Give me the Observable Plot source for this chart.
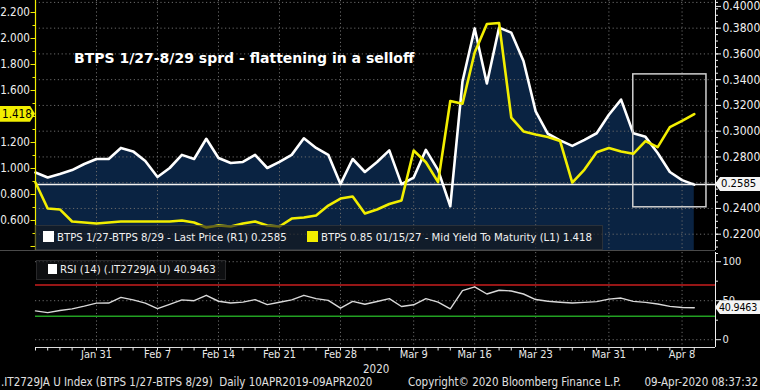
<!DOCTYPE html>
<html>
<head>
<meta charset="utf-8">
<script src="https://cdn.jsdelivr.net/npm/d3@7"></script>
<script src="https://cdn.jsdelivr.net/npm/@observablehq/plot@0.6"></script>
<style>
html,body{margin:0;padding:0;background:#000;}
#chart{position:relative;width:760px;height:390px;background:#000;overflow:hidden;
  font-family:"Liberation Sans Narrow","DejaVu Sans Condensed","Liberation Sans",Arial,sans-serif;color:#e8e8e8;}
.layer{position:absolute;left:0;}
.layer svg{overflow:visible;}
.title{position:absolute;left:74px;top:50px;font-family:"DejaVu Sans",Verdana,sans-serif;font-weight:bold;font-size:14px;color:#fff;white-space:nowrap;}
.legend{position:absolute;background:rgba(22,24,28,0.62);border:1px solid rgba(90,90,90,0.35);white-space:nowrap;font-size:11.3px;color:#f0f0f0;box-sizing:border-box;}
.item{position:absolute;top:5px;}
.sw{display:inline-block;width:11px;height:11px;vertical-align:-1px;margin-right:3px;}
.tag{position:absolute;font-size:11.2px;line-height:14px;height:14px;white-space:nowrap;color:#000;box-sizing:border-box;}
.foot{position:absolute;top:375px;font-size:11.5px;color:#e0e0e0;white-space:nowrap;}
</style>
</head>
<body>
<div id="chart"></div>
<script>
// ---- data (trading days) ----
const dates = [
 "2020-01-24","2020-01-27","2020-01-28","2020-01-29","2020-01-30","2020-01-31",
 "2020-02-03","2020-02-04","2020-02-05","2020-02-06","2020-02-07",
 "2020-02-10","2020-02-11","2020-02-12","2020-02-13","2020-02-14",
 "2020-02-17","2020-02-18","2020-02-19","2020-02-20","2020-02-21",
 "2020-02-24","2020-02-25","2020-02-26","2020-02-27","2020-02-28",
 "2020-03-02","2020-03-03","2020-03-04","2020-03-05","2020-03-06",
 "2020-03-09","2020-03-10","2020-03-11","2020-03-12","2020-03-13",
 "2020-03-16","2020-03-17","2020-03-18","2020-03-19","2020-03-20",
 "2020-03-23","2020-03-24","2020-03-25","2020-03-26","2020-03-27",
 "2020-03-30","2020-03-31","2020-04-01","2020-04-02","2020-04-03",
 "2020-04-06","2020-04-07","2020-04-08","2020-04-09"
];
// BTPS 1/27-BTPS 8/29 spread, Last Price (R1)
const spreadR1 = [
 0.2679,0.2640,0.2667,0.2698,0.2745,0.2784,0.2784,0.2870,0.2843,0.2769,
 0.2644,0.2714,0.2816,0.2784,0.2941,0.2792,0.2753,0.2761,0.2816,0.2714,
 0.2761,0.2816,0.2945,0.2870,0.2816,0.2589,0.2784,0.2683,0.2761,0.2851,
 0.2589,0.2640,0.2855,0.2698,0.2417,0.3386,0.3798,0.3370,0.3804,0.3765,
 0.3545,0.3154,0.2980,0.2929,0.2886,0.2933,0.2984,0.3128,0.3245,0.2984,
 0.2956,0.2831,0.2683,0.2620,0.2585
];
// BTPS 0.85 01/15/27 Mid Yield To Maturity (L1)
const yieldL1 = [
 0.892,0.692,0.685,0.592,0.585,0.577,0.585,0.592,0.592,0.592,
 0.592,0.592,0.600,0.585,0.546,0.562,0.554,0.577,0.592,0.562,
 0.554,0.615,0.623,0.638,0.715,0.769,0.785,0.654,0.685,0.727,
 0.754,1.138,1.048,0.895,1.519,1.498,1.892,2.112,2.119,1.392,
 1.285,1.262,1.242,1.212,0.892,0.992,1.125,1.158,1.131,1.113,
 1.210,1.164,1.318,1.367,1.418
];
// RSI (14)
const rsi14 = [
 36.9,34.7,37.5,39.5,43.0,46.9,47.0,54.3,51.0,46.9,
 39.8,45.4,51.0,50.0,56.9,49.3,47.0,48.2,51.3,45.0,
 48.0,51.0,56.9,52.6,50.4,40.4,49.1,45.5,49.0,52.6,
 42.6,44.8,52.6,48.2,39.5,63.0,67.8,58.6,63.4,62.5,
 58.6,51.5,49.3,48.0,47.0,47.8,48.8,52.0,53.4,49.1,
 47.9,45.7,42.7,41.3,40.9463
];
const tickDates = ["2020-01-31","2020-02-07","2020-02-14","2020-02-21","2020-02-28",
                   "2020-03-09","2020-03-16","2020-03-23","2020-03-31","2020-04-08"];
const tickLabels = ["Jan 31","Feb 7","Feb 14","Feb 21","Feb 28","Mar 9","Mar 16","Mar 23","Mar 31","Apr 8"];
const rightTicks = [0.22,0.24,0.26,0.28,0.30,0.32,0.34,0.36,0.38,0.40];
const leftTicks = [0.6,0.8,1.0,1.2,1.4,1.6,1.8,2.0,2.2];
const rsiTicks = [0,50,100];
const rsiBands = {over: 70, under: 30};
const highlight = {from: "2020-04-02", to: "2020-04-09", top: 0.3441, bottom: 0.2409};

// ---- build ----
const data = dates.map((d, i) => ({i, date: d, spread: spreadR1[i], yld: yieldL1[i], rsi: rsi14[i]}));
const tickIdx = tickDates.map(d => dates.indexOf(d));
const labelOf = new Map(tickIdx.map((k, j) => [k, tickLabels[j]]));
const lastSpread = spreadR1[spreadR1.length - 1];
const lastYield = yieldL1[yieldL1.length - 1];
const lastRsi = rsi14[rsi14.length - 1];

const xDomain = [0, 55.74];
const spreadDomain = [0.20734, 0.40148];
const yieldDomain = [0.3692, 2.2923];
const rsiDomain = [-10, 111.8];
const YEL = "#f2ee00";
const grid = {stroke: "#6a6a6a", strokeDasharray: "1.2,2.6", strokeWidth: 1};
const chart = document.getElementById("chart");

function layer(svg, top) {
  const d = document.createElement("div");
  d.className = "layer";
  d.style.top = top + "px";
  d.appendChild(svg);
  chart.appendChild(d);
  return svg;
}

const common = {width: 760, marginLeft: 35, marginRight: 45};
const f4 = d3.format(".4f");

// main panel: spread (right axis)
const mainPlot = layer(Plot.plot({
  ...common, height: 251, marginTop: 0, marginBottom: 1,
  style: {background: "transparent", color: "#f0f0f0", fontFamily: "inherit", fontSize: "12px"},
  x: {domain: xDomain, axis: null},
  y: {domain: spreadDomain, axis: null},
  marks: [
    Plot.areaY(data, {x: "i", y1: spreadDomain[0], y2: "spread", fill: "#0a2342"}),
    Plot.ruleY(rightTicks, grid),
    Plot.ruleX(tickIdx, grid),
    Plot.ruleY([lastSpread], {stroke: "#f2f2f2", strokeWidth: 1.5}),
    Plot.line(data, {x: "i", y: "spread", stroke: "#ffffff", strokeWidth: 2.6}),
    Plot.rect([highlight], {x1: d => dates.indexOf(d.from), x2: d => dates.indexOf(d.to) + 1,
      y1: "bottom", y2: "top", fill: "none", stroke: "#cfcfcf", strokeWidth: 1.5}),
    Plot.ruleX([xDomain[1]], {stroke: "#f0f0f0", strokeWidth: 1}),
    Plot.axisY(d3.range(0.205, 0.4001, 0.005), {anchor: "right", label: null, tickSize: 2, tickFormat: () => ""}),
    Plot.axisY(rightTicks.filter(t => t < 0.39), {anchor: "right", label: null, tickSize: 5, tickPadding: 2, fontSize: 12,
      tickFormat: d => Math.abs(d - lastSpread) < 0.006 ? "" : f4(d)}),
    Plot.axisY([0.40], {anchor: "right", label: null, tickSize: 5, tickPadding: 2, dy: 4, fontSize: 12, tickFormat: f4})
  ]
}), 0);

// yield line (left axis) overlay
const yPlot = layer(Plot.plot({
  ...common, height: 251, marginTop: 0, marginBottom: 1,
  style: {background: "transparent", color: "#f0f0f0", fontFamily: "inherit", fontSize: "11.6px"},
  x: {domain: xDomain, axis: null},
  y: {domain: yieldDomain, axis: null},
  marks: [
    Plot.line(data, {x: "i", y: "yld", stroke: YEL, strokeWidth: 2.6}),
    Plot.ruleX([0], {stroke: YEL, strokeWidth: 1.2}),
    Plot.axisY(d3.range(0.4, 2.25, 0.1), {anchor: "left", label: null, tickSize: 2.5, stroke: YEL, tickFormat: () => ""}),
    Plot.axisY([0.4, ...leftTicks], {anchor: "left", label: null, tickSize: 4.5, tickPadding: 1, stroke: YEL, fill: "#f0f0f0", fontSize: 11.6,
      tickFormat: d => (d < 0.5 || Math.abs(d - lastYield) < 0.06) ? "" : d3.format(".3f")(d)})
  ]
}), 0);

// RSI panel + x axis
const rsiPlot = layer(Plot.plot({
  ...common, height: 130, marginTop: 1, marginBottom: 34,
  style: {background: "transparent", color: "#e8e8e8", fontFamily: "inherit", fontSize: "11px"},
  x: {domain: xDomain, axis: null},
  y: {domain: rsiDomain, axis: null},
  marks: [
    Plot.ruleY(rsiTicks, grid),
    Plot.ruleX(tickIdx, grid),
    Plot.ruleY([rsiBands.over], {stroke: "#c81e1e", strokeWidth: 1.5}),
    Plot.ruleY([rsiBands.under], {stroke: "#22a022", strokeWidth: 1.5}),
    Plot.line(data, {x: "i", y: "rsi", stroke: "#d9d9d9", strokeWidth: 1.4}),
    Plot.ruleX([xDomain[1]], {stroke: "#f0f0f0", strokeWidth: 1}),
    Plot.axisY([25, 75], {anchor: "right", label: null, tickSize: 2, tickFormat: () => ""}),
    Plot.axisY(rsiTicks, {anchor: "right", label: null, tickSize: 5, tickPadding: 2, fontSize: 11}),
    Plot.ruleY([rsiDomain[0]], {stroke: "#dcdcdc", strokeWidth: 1}),
    Plot.axisX(d3.range(0, dates.length), {anchor: "bottom", label: null, tickSize: 3.5, tickFormat: () => ""}),
    Plot.axisX(tickIdx, {anchor: "bottom", label: null, tickSize: 0, tickPadding: 3, fontSize: 11, tickFormat: i => labelOf.get(i)})
  ]
}), 251);

// separator between panels
const sep = document.createElement("div");
sep.style.cssText = "position:absolute;left:0;top:250px;width:715px;height:1px;background:#4a4a4a;";
chart.appendChild(sep);

// HTML overlays
function addHTML(html) { chart.insertAdjacentHTML("beforeend", html); }
addHTML(`<div class="title">BTPS 1/27-8/29 sprd - flattening in a selloff</div>`);
addHTML(`<div class="legend" style="left:35px;top:225px;width:568px;height:25px;">
  <span class="item" style="left:7px;"><span class="sw" style="background:#fff"></span>BTPS 1/27-BTPS 8/29 - Last Price (R1) ${lastSpread.toFixed(4)}</span>
  <span class="item" style="left:271px;"><span class="sw" style="background:${YEL}"></span>BTPS 0.85 01/15/27 - Mid Yield To Maturity (L1) ${lastYield.toFixed(3)}</span></div>`);
addHTML(`<div class="legend" style="left:36px;top:260px;width:190px;height:20px;padding:2px 0 0 11px;">
  <span class="sw" style="background:#fff;width:9px;height:10px;"></span>RSI (14) (.IT2729JA U) ${lastRsi.toFixed(4)}</div>`);

// value tags positioned from the plot scales
const ySpread = mainPlot.scale("y").apply(lastSpread);
const yYield = yPlot.scale("y").apply(lastYield);
const yRsi = 251 + rsiPlot.scale("y").apply(lastRsi);
const leftPoly = "polygon(5px 0,100% 0,100% 100%,5px 100%,0 50%)";
addHTML(`<div class="tag" style="left:715px;top:${ySpread - 7}px;width:45px;background:#f4f4f4;padding-left:6px;clip-path:${leftPoly}">${lastSpread.toFixed(4)}</div>`);
addHTML(`<div class="tag" style="left:715px;top:${yRsi - 7}px;width:45px;background:#f4f4f4;padding-left:4px;font-size:10.6px;letter-spacing:-0.2px;clip-path:${leftPoly}">${lastRsi.toFixed(4)}</div>`);
addHTML(`<div class="tag" style="left:0px;top:${yYield - 8}px;width:35px;height:16px;line-height:16px;background:${YEL};padding-left:2px;font-size:11.6px;clip-path:polygon(0 0,30px 0,100% 50%,30px 100%,0 100%)">${lastYield.toFixed(3)}</div>`);

// x-axis year + footer
addHTML(`<div class="foot" style="left:363px;top:362px;">2020</div>`);
addHTML(`<div class="foot" style="left:1px;">.IT2729JA U Index (BTPS 1/27-BTPS 8/29)&nbsp; Daily 10APR2019-09APR2020</div>`);
addHTML(`<div class="foot" style="left:408px;">Copyright© 2020 Bloomberg Finance L.P.</div>`);
addHTML(`<div class="foot" style="right:2px;">09-Apr-2020 08:37:32</div>`);
</script>
</body>
</html>
